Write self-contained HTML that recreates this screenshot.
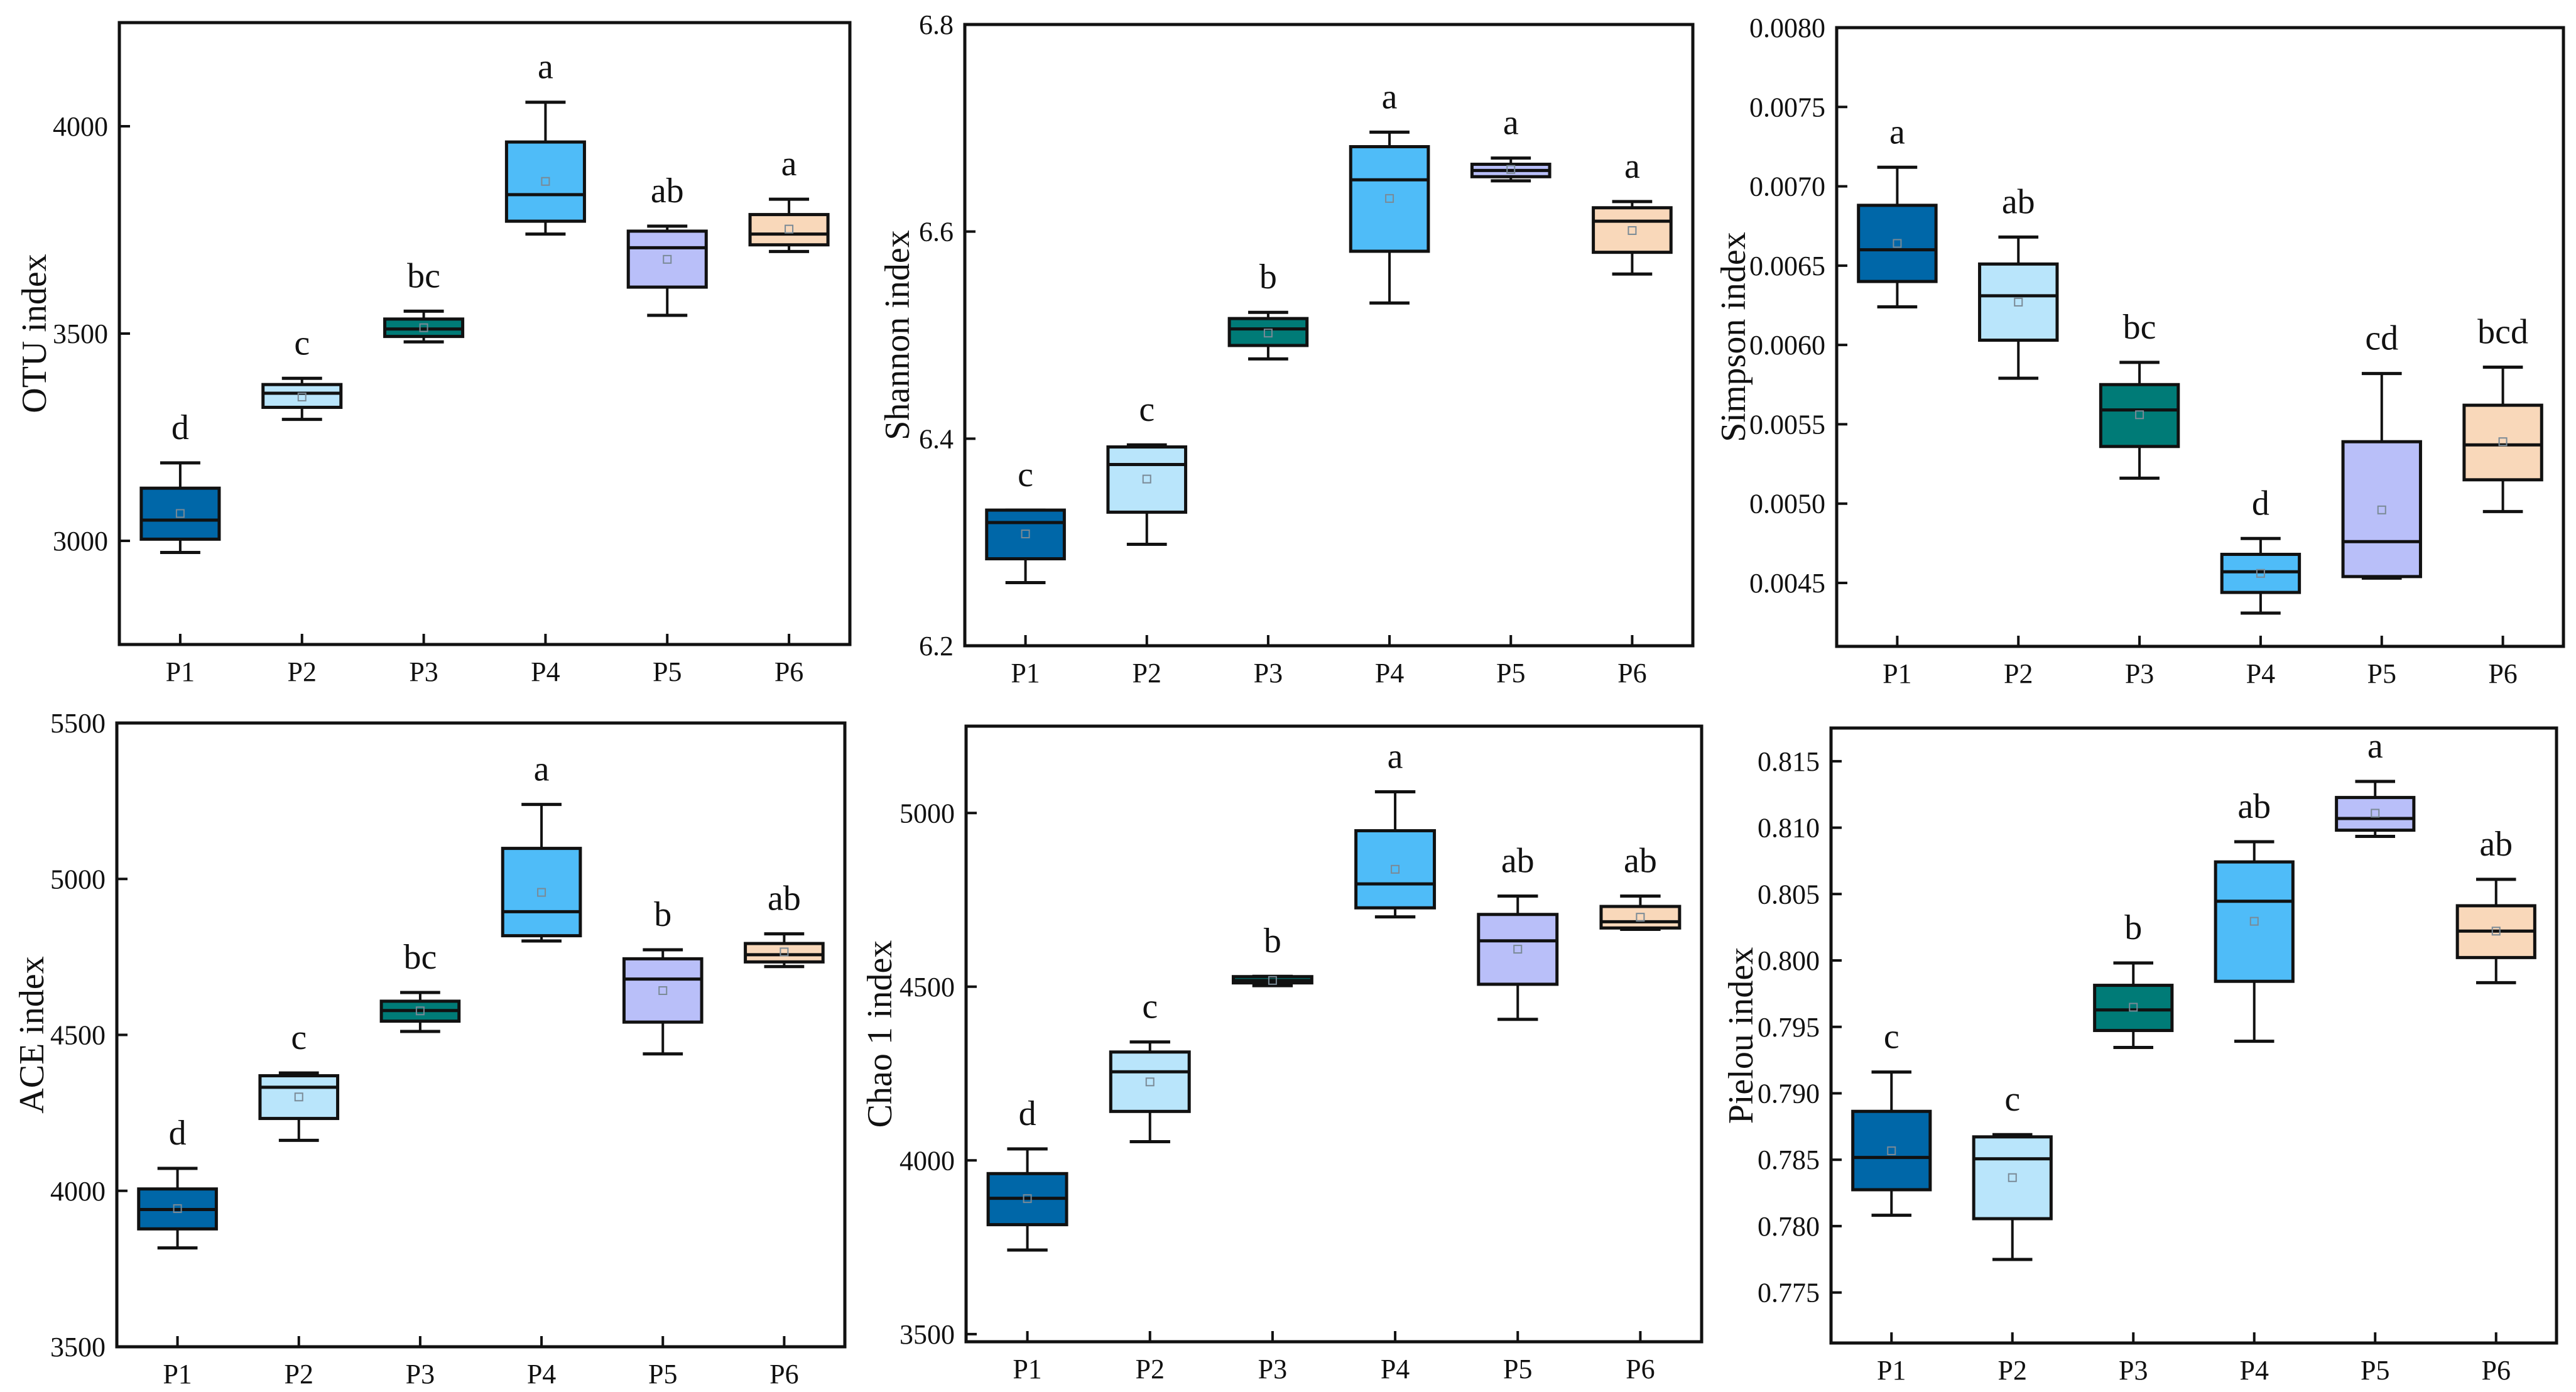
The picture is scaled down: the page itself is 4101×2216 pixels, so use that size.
<!DOCTYPE html>
<html><head><meta charset="utf-8">
<style>
html,body{margin:0;padding:0;background:#fff;}
svg{display:block;}
text{font-family:"Liberation Serif","Times New Roman",serif;fill:#111;}
</style></head>
<body>
<svg id="fig" width="4101" height="2216" viewBox="0 0 4101 2216" xmlns="http://www.w3.org/2000/svg"></svg>
<script>
const categories = ["P1","P2","P3","P4","P5","P6"];
const boxColors = ["#0067a8","#b9e5fb","#007b77","#4fbcf8","#b9bff9","#f9d8ba"];

// OTU
const otuHigh = [3188,3392,3554,4058,3759,3824];
const otuQ3   = [3127,3377,3535,3962,3747,3787];
const otuMed  = [3050,3356,3511,3835,3707,3740];
const otuQ1   = [3004,3322,3493,3771,3612,3714];
const otuLow  = [2972,3293,3480,3740,3544,3698];
const otuMean = [3066,3347,3514,3867,3679,3752];
const otuLetters = ["d","c","bc","a","ab","a"];
const otuTicks = [3000,3500,4000];
const otuTickLabels = ["3000","3500","4000"];

// Shannon
const shHigh = [6.331,6.394,6.522,6.696,6.671,6.629];
const shQ3   = [6.331,6.392,6.516,6.682,6.665,6.623];
const shMed  = [6.319,6.375,6.506,6.650,6.659,6.610];
const shQ1   = [6.284,6.329,6.490,6.581,6.653,6.580];
const shLow  = [6.261,6.298,6.477,6.531,6.649,6.559];
const shMean = [6.308,6.361,6.502,6.632,6.660,6.601];
const shLetters = ["c","c","b","a","a","a"];
const shTicks = [6.2,6.4,6.6,6.8];
const shTickLabels = ["6.2","6.4","6.6","6.8"];

// Simpson
const siHigh = [0.00712,0.00668,0.00589,0.00478,0.00582,0.00586];
const siQ3   = [0.00688,0.00651,0.00575,0.00468,0.00539,0.00562];
const siMed  = [0.00660,0.00631,0.00559,0.00457,0.00476,0.00537];
const siQ1   = [0.00640,0.00603,0.00536,0.00444,0.00454,0.00515];
const siLow  = [0.00624,0.00579,0.00516,0.00431,0.00453,0.00495];
const siMean = [0.00664,0.00627,0.00556,0.00456,0.00496,0.00539];
const siLetters = ["a","ab","bc","d","cd","bcd"];
const siTicks = [0.0045,0.0050,0.0055,0.0060,0.0065,0.0070,0.0075,0.0080];
const siTickLabels = ["0.0045","0.0050","0.0055","0.0060","0.0065","0.0070","0.0075","0.0080"];

// ACE
const aceHigh = [4072,4378,4636,5239,4773,4824];
const aceQ3   = [4006,4369,4608,5098,4744,4793];
const aceMed  = [3940,4332,4578,4895,4679,4757];
const aceQ1   = [3878,4232,4544,4818,4541,4734];
const aceLow  = [3817,4162,4511,4801,4439,4719];
const aceMean = [3943,4301,4577,4957,4642,4766];
const aceLetters = ["d","c","bc","a","b","ab"];
const aceTicks = [3500,4000,4500,5000,5500];
const aceTickLabels = ["3500","4000","4500","5000","5500"];

// Chao1
const chHigh = [4033,4341,4530,5061,4761,4761];
const chQ3   = [3962,4312,4529,4949,4708,4731];
const chMed  = [3891,4255,4518,4796,4632,4687];
const chQ1   = [3815,4141,4511,4727,4507,4669];
const chLow  = [3742,4054,4503,4701,4406,4665];
const chMean = [3890,4226,4518,4838,4608,4700];
const chLetters = ["d","c","b","a","ab","ab"];
const chTicks = [3500,4000,4500,5000];
const chTickLabels = ["3500","4000","4500","5000"];

// Pielou
const piHigh = [0.79160,0.78689,0.79981,0.80894,0.81348,0.80611];
const piQ3   = [0.78864,0.78672,0.79813,0.80742,0.81227,0.80412];
const piMed  = [0.78517,0.78507,0.79628,0.80446,0.81069,0.80221];
const piQ1   = [0.78274,0.78056,0.79473,0.79843,0.80981,0.80022];
const piLow  = [0.78082,0.77749,0.79345,0.79392,0.80934,0.79833];
const piMean = [0.78567,0.78365,0.79648,0.80295,0.81109,0.80221];
const piLetters = ["c","c","b","ab","a","ab"];
const piTicks = [0.775,0.780,0.785,0.790,0.795,0.800,0.805,0.810,0.815];
const piTickLabels = ["0.775","0.780","0.785","0.790","0.795","0.800","0.805","0.810","0.815"];

const NS = "http://www.w3.org/2000/svg";
const svg = document.getElementById("fig");
function mk(tag, attrs, parent){
  const e = document.createElementNS(NS, tag);
  for (const k in attrs) e.setAttribute(k, attrs[k]);
  (parent||svg).appendChild(e);
  return e;
}

function panel(cfg){
  const g = mk("g", {});
  
  
  const L=cfg.x0, R=cfg.x1, T=cfg.y0, B=cfg.y1;
  const yS = v => B - (v - cfg.dmin)/(cfg.dmax - cfg.dmin)*(B - T);
  const step = (R - L)/categories.length;
  const xS = i => L + step*(i + 0.5);
  const bw = step*0.64, cw = step*0.33;

  cfg.ticks.forEach((t,i)=>{
    const y = yS(t);
    const tk = mk("line",{x1:L,x2:L+17,y1:y,y2:y,stroke:"#111","stroke-width":4},g);
    
    
    const lb = mk("text",{x:L-18,y:y+15,"font-size":44,"text-anchor":"end"},g);
    lb.textContent = cfg.tickLabels[i];
    
    
  });
  const cy = (T+B)/2;
  const yt = mk("text",{x:cfg.titleX,y:cy,"font-size":56,"text-anchor":"middle",transform:`rotate(-90 ${cfg.titleX} ${cy})`,"dominant-baseline":"central"},g);
  yt.textContent = cfg.title;
  
  

  categories.forEach((c,i)=>{
    const x = xS(i);
    const tk = mk("line",{x1:x,x2:x,y1:B,y2:B-17,stroke:"#111","stroke-width":4},g);
    
    
    const lb = mk("text",{x:x,y:B+58,"font-size":44,"text-anchor":"middle"},g);
    lb.textContent = c;
    
    

    const bg = mk("g",{},g);
    
    
    const yh=yS(cfg.high[i]), yq3=yS(cfg.q3[i]), ym=yS(cfg.med[i]), yq1=yS(cfg.q1[i]), yl=yS(cfg.low[i]), ymn=yS(cfg.mean[i]);
    const w1 = mk("line",{x1:x,x2:x,y1:yh,y2:yq3,stroke:"#111","stroke-width":4},bg);
    
    
    const w2 = mk("line",{x1:x,x2:x,y1:yq1,y2:yl,stroke:"#111","stroke-width":4},bg);
    
    
    const c1 = mk("line",{x1:x-cw/2,x2:x+cw/2,y1:yh,y2:yh,stroke:"#111","stroke-width":5},bg);
    
    
    const c2 = mk("line",{x1:x-cw/2,x2:x+cw/2,y1:yl,y2:yl,stroke:"#111","stroke-width":5},bg);
    
    
    const rc = mk("rect",{x:x-bw/2,y:yq3,width:bw,height:Math.max(yq1-yq3,1),fill:boxColors[i],stroke:"#111","stroke-width":5},bg);
    
    
    const md = mk("line",{x1:x-bw/2,x2:x+bw/2,y1:ym,y2:ym,stroke:"#111","stroke-width":5},bg);
    
    
    const mn = mk("rect",{x:x-6,y:ymn-6,width:12,height:12,fill:"none",stroke:"#7a8a96","stroke-width":2},bg);
    
    
    const lt = mk("text",{x:x,y:yh-38,"font-size":56,"text-anchor":"middle"},g);
    lt.textContent = cfg.letters[i];
    
    
  });
  const fr = mk("rect",{x:L,y:T,width:R-L,height:B-T,fill:"none",stroke:"#111","stroke-width":5},g);
  
  
}

panel({name:"otu",x0:190,x1:1353,y0:36,y1:1026,dmin:2750,dmax:4250,ticks:otuTicks,tickLabels:otuTickLabels,title:"OTU index",titleX:55,
  high:otuHigh,q3:otuQ3,med:otuMed,q1:otuQ1,low:otuLow,mean:otuMean,letters:otuLetters});
panel({name:"shannon",x0:1536,x1:2695,y0:39,y1:1028,dmin:6.2,dmax:6.8,ticks:shTicks,tickLabels:shTickLabels,title:"Shannon index",titleX:1429,
  high:shHigh,q3:shQ3,med:shMed,q1:shQ1,low:shLow,mean:shMean,letters:shLetters});
panel({name:"simpson",x0:2924,x1:4081,y0:44,y1:1029,dmin:0.0041,dmax:0.0080,ticks:siTicks,tickLabels:siTickLabels,title:"Simpson index",titleX:2760,
  high:siHigh,q3:siQ3,med:siMed,q1:siQ1,low:siLow,mean:siMean,letters:siLetters});
panel({name:"ace",x0:186,x1:1345,y0:1151,y1:2144,dmin:3500,dmax:5500,ticks:aceTicks,tickLabels:aceTickLabels,title:"ACE index",titleX:51,
  high:aceHigh,q3:aceQ3,med:aceMed,q1:aceQ1,low:aceLow,mean:aceMean,letters:aceLetters});
panel({name:"chao1",x0:1538,x1:2709,y0:1156,y1:2136,dmin:3478,dmax:5250,ticks:chTicks,tickLabels:chTickLabels,title:"Chao 1 index",titleX:1401,
  high:chHigh,q3:chQ3,med:chMed,q1:chQ1,low:chLow,mean:chMean,letters:chLetters});
panel({name:"pielou",x0:2915,x1:4070,y0:1159,y1:2138,dmin:0.7712,dmax:0.8175,ticks:piTicks,tickLabels:piTickLabels,title:"Pielou index",titleX:2772,
  high:piHigh,q3:piQ3,med:piMed,q1:piQ1,low:piLow,mean:piMean,letters:piLetters});
</script>
</body></html>
